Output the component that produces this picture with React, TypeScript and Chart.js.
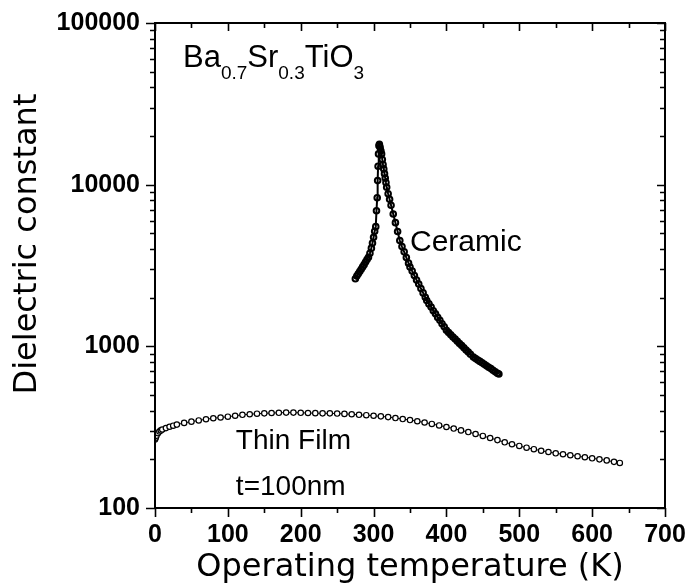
import React, { useEffect, useRef } from "react";
import { Chart, registerables } from "chart.js";

Chart.register(...registerables);

// ---- data ----
const ceramicT = [275, 277, 279, 281, 283, 285, 287, 289, 291, 293, 295, 297, 298.5, 300, 301.5, 303, 304, 305, 305.6, 306.2, 306.8, 307.4, 308, 309, 310, 311, 312, 313, 314, 315, 316, 317, 318, 320, 322, 324, 327, 330, 333, 336, 339, 342, 345, 348, 350, 353, 356, 359, 362, 365, 368, 371, 373, 376, 379, 382, 385, 388, 391, 394, 397, 400, 403, 406, 409, 412, 415, 418, 421, 424, 427, 430, 433, 437, 440, 443, 446, 449, 452, 455, 458, 461, 464, 467, 470, 472];
const ceramicEps = [2620, 2720, 2810, 2900, 3000, 3100, 3200, 3320, 3440, 3560, 3760, 4050, 4350, 4730, 5150, 5500, 6900, 8300, 10600, 13000, 15500, 17400, 17800, 17000, 16200, 15500, 14300, 13300, 12500, 11700, 11000, 10300, 9630, 8790, 8110, 7460, 6590, 5820, 5130, 4510, 4140, 3840, 3540, 3270, 3090, 2920, 2740, 2570, 2430, 2280, 2140, 2010, 1920, 1830, 1750, 1660, 1590, 1510, 1450, 1380, 1320, 1256, 1217, 1180, 1143, 1109, 1076, 1042, 1011, 980, 950, 922, 893, 859, 841, 824, 807, 791, 774, 759, 743, 728, 711, 697, 682, 675];

const filmT = [0, 1, 2, 4, 6, 8, 10, 15, 20, 25, 30, 40, 50, 60, 70, 80, 90, 100, 110, 120, 130, 140, 150, 160, 170, 180, 190, 200, 210, 220, 230, 240, 250, 260, 270, 280, 290, 300, 310, 320, 330, 340, 350, 360, 370, 380, 390, 400, 410, 420, 430, 440, 450, 460, 470, 480, 490, 500, 510, 520, 530, 540, 550, 560, 570, 580, 590, 600, 610, 620, 630, 638];
const filmEps = [265, 272, 280, 290, 297, 302, 306, 312, 318, 323, 328, 336, 342, 348, 354, 359, 363, 367, 372, 377, 380, 383, 385, 387, 388, 389, 389, 388, 387, 386, 385, 385, 384, 382, 380, 377, 375, 372, 369, 365, 360, 355, 350, 344, 338, 331, 324, 317, 310, 302, 295, 287, 279, 271, 263, 255, 248, 242, 236, 231, 226, 222, 218, 215, 212, 209, 206, 203, 200, 197, 193, 190];

const xTicks = [0, 100, 200, 300, 400, 500, 600, 700];
const xMinorTicks = [50, 150, 250, 350, 450, 550, 650];
const yTicks = [100, 1000, 10000, 100000];
const yTickLabels = ["100", "1000", "10000", "100000"];
const yMinorFactors = [2, 3, 4, 5, 6, 7, 8, 9];

const xTitle = "Operating temperature (K)";
const yTitle = "Dielectric constant";

const SANS = "'Liberation Sans', Arial, sans-serif";
const TITLE_FAMILY = "'DejaVu Sans', sans-serif";

const framePlugin = {
  id: "framePlugin",
  afterDraw(chart: any) {
    const { ctx, chartArea: a, scales } = chart;
    const xs = scales.x;
    const ys = scales.y;
    ctx.save();
    ctx.strokeStyle = "#000";
    ctx.lineWidth = 2;
    ctx.strokeRect(a.left, a.top, a.right - a.left, a.bottom - a.top);

    ctx.lineWidth = 1.6;
    ctx.beginPath();
    for (const v of xTicks) {
      const p = Math.round(xs.getPixelForValue(v)) + 0.5;
      ctx.moveTo(p, a.bottom); ctx.lineTo(p, a.bottom + 9);
      ctx.moveTo(p, a.top); ctx.lineTo(p, a.top + 8);
    }
    for (const v of xMinorTicks) {
      const p = Math.round(xs.getPixelForValue(v)) + 0.5;
      ctx.moveTo(p, a.bottom); ctx.lineTo(p, a.bottom + 5);
      ctx.moveTo(p, a.top); ctx.lineTo(p, a.top + 5);
    }
    for (const v of yTicks) {
      const p = Math.round(ys.getPixelForValue(v)) + 0.5;
      ctx.moveTo(a.left, p); ctx.lineTo(a.left - 9, p);
      ctx.moveTo(a.right, p); ctx.lineTo(a.right - 8, p);
    }
    for (let d = 0; d < yTicks.length - 1; d++) {
      for (const f of yMinorFactors) {
        const p = Math.round(ys.getPixelForValue(yTicks[d] * f)) + 0.5;
        ctx.moveTo(a.left, p); ctx.lineTo(a.left - 5, p);
        ctx.moveTo(a.right, p); ctx.lineTo(a.right - 5, p);
      }
    }
    ctx.stroke();

    ctx.fillStyle = "#000";
    ctx.textBaseline = "alphabetic";
    ctx.textAlign = "left";

    ctx.font = `30px ${SANS}`;
    ctx.fillText("Ceramic", xs.getPixelForValue(350), ys.getPixelForValue(3880));
    ctx.font = `28px ${SANS}`;
    ctx.fillText("Thin Film", xs.getPixelForValue(111), ys.getPixelForValue(232));
    ctx.fillText("t=100nm", xs.getPixelForValue(111), ys.getPixelForValue(120));

    const parts: [string, boolean][] = [["Ba", false], ["0.7", true], ["Sr", false], ["0.3", true], ["TiO", false], ["3", true]];
    let fx = xs.getPixelForValue(38.4);
    const fy = ys.getPixelForValue(53300);
    for (const [t, sub] of parts) {
      ctx.font = sub ? `19px ${SANS}` : `31px ${SANS}`;
      ctx.fillText(t, fx, sub ? fy + 12 : fy);
      fx += ctx.measureText(t).width;
    }

    ctx.save();
    ctx.translate(28, 244);
    ctx.rotate(-Math.PI / 2);
    ctx.font = `32px ${TITLE_FAMILY}`;
    ctx.textAlign = "center";
    ctx.textBaseline = "middle";
    ctx.fillText(yTitle, 0, 0);
    ctx.restore();

    ctx.restore();
  },
};

export default function App() {
  const ref = useRef<HTMLCanvasElement | null>(null);
  useEffect(() => {
    if (!ref.current) return;
    const common = {
      pointStyle: "circle",
      pointBorderColor: "#000",
      borderColor: "#000",
      fill: false,
      tension: 0,
    };
    const chart = new Chart(ref.current, {
      type: "line",
      data: {
        datasets: [
          {
            label: "Ceramic",
            data: ceramicT.map((t, i) => ({ x: t, y: ceramicEps[i] })),
            pointRadius: 2.8,
            pointBorderWidth: 2,
            pointBackgroundColor: "rgba(255,255,255,0)",
            backgroundColor: "rgba(255,255,255,0)",
            ...common,
            borderWidth: 2,
          } as any,
          {
            label: "Thin Film",
            data: filmT.map((t, i) => ({ x: t, y: filmEps[i] })),
            pointRadius: 2.7,
            pointBorderWidth: 1.2,
            pointBackgroundColor: "#fff",
            backgroundColor: "#fff",
            ...common,
            borderWidth: 1,
          } as any,
        ],
      },
      options: {
        animation: false,
        responsive: false,
        devicePixelRatio: 1,
        layout: { padding: { top: 23, right: 27, left: 0, bottom: 0 } },
        plugins: { legend: { display: false }, tooltip: { enabled: false } },
        scales: {
          x: {
            type: "linear",
            min: 0,
            max: 700,
            afterBuildTicks: (s: any) => { s.ticks = xTicks.map((v) => ({ value: v })); },
            afterFit: (s: any) => { s.height = 79; s.paddingLeft = 0; s.paddingRight = 0; },
            grid: { display: false, drawTicks: false, tickLength: 0 },
            border: { display: false },
            ticks: { font: { family: SANS, size: 25, weight: "bold" }, color: "#000", padding: 12, maxRotation: 0, autoSkip: false },
            title: { display: true, text: xTitle, color: "#000", font: { family: TITLE_FAMILY, size: 32, weight: "normal" }, padding: { top: 0, bottom: 0 } },
          },
          y: {
            type: "logarithmic",
            min: 100,
            max: 100000,
            afterBuildTicks: (s: any) => { s.ticks = yTicks.map((v) => ({ value: v })); },
            afterFit: (s: any) => { s.width = 155; s.paddingTop = 0; s.paddingBottom = 0; },
            grid: { display: false, drawTicks: false, tickLength: 0 },
            border: { display: false },
            ticks: {
              font: { family: SANS, size: 25, weight: "bold" },
              color: "#000",
              padding: 15,
              autoSkip: false,
              callback: (v: any) => { const i = yTicks.indexOf(Number(v)); return i >= 0 ? yTickLabels[i] : ""; },
            },
            title: { display: false, text: yTitle },
          },
        },
      },
      plugins: [framePlugin],
    } as any);
    return () => chart.destroy();
  }, []);
  return (
    <div style={{ position: "absolute", left: 0, top: 0, width: 692, height: 587, background: "#fff" }}>
      <canvas ref={ref} width={692} height={587} style={{ display: "block" }} />
    </div>
  );
}
